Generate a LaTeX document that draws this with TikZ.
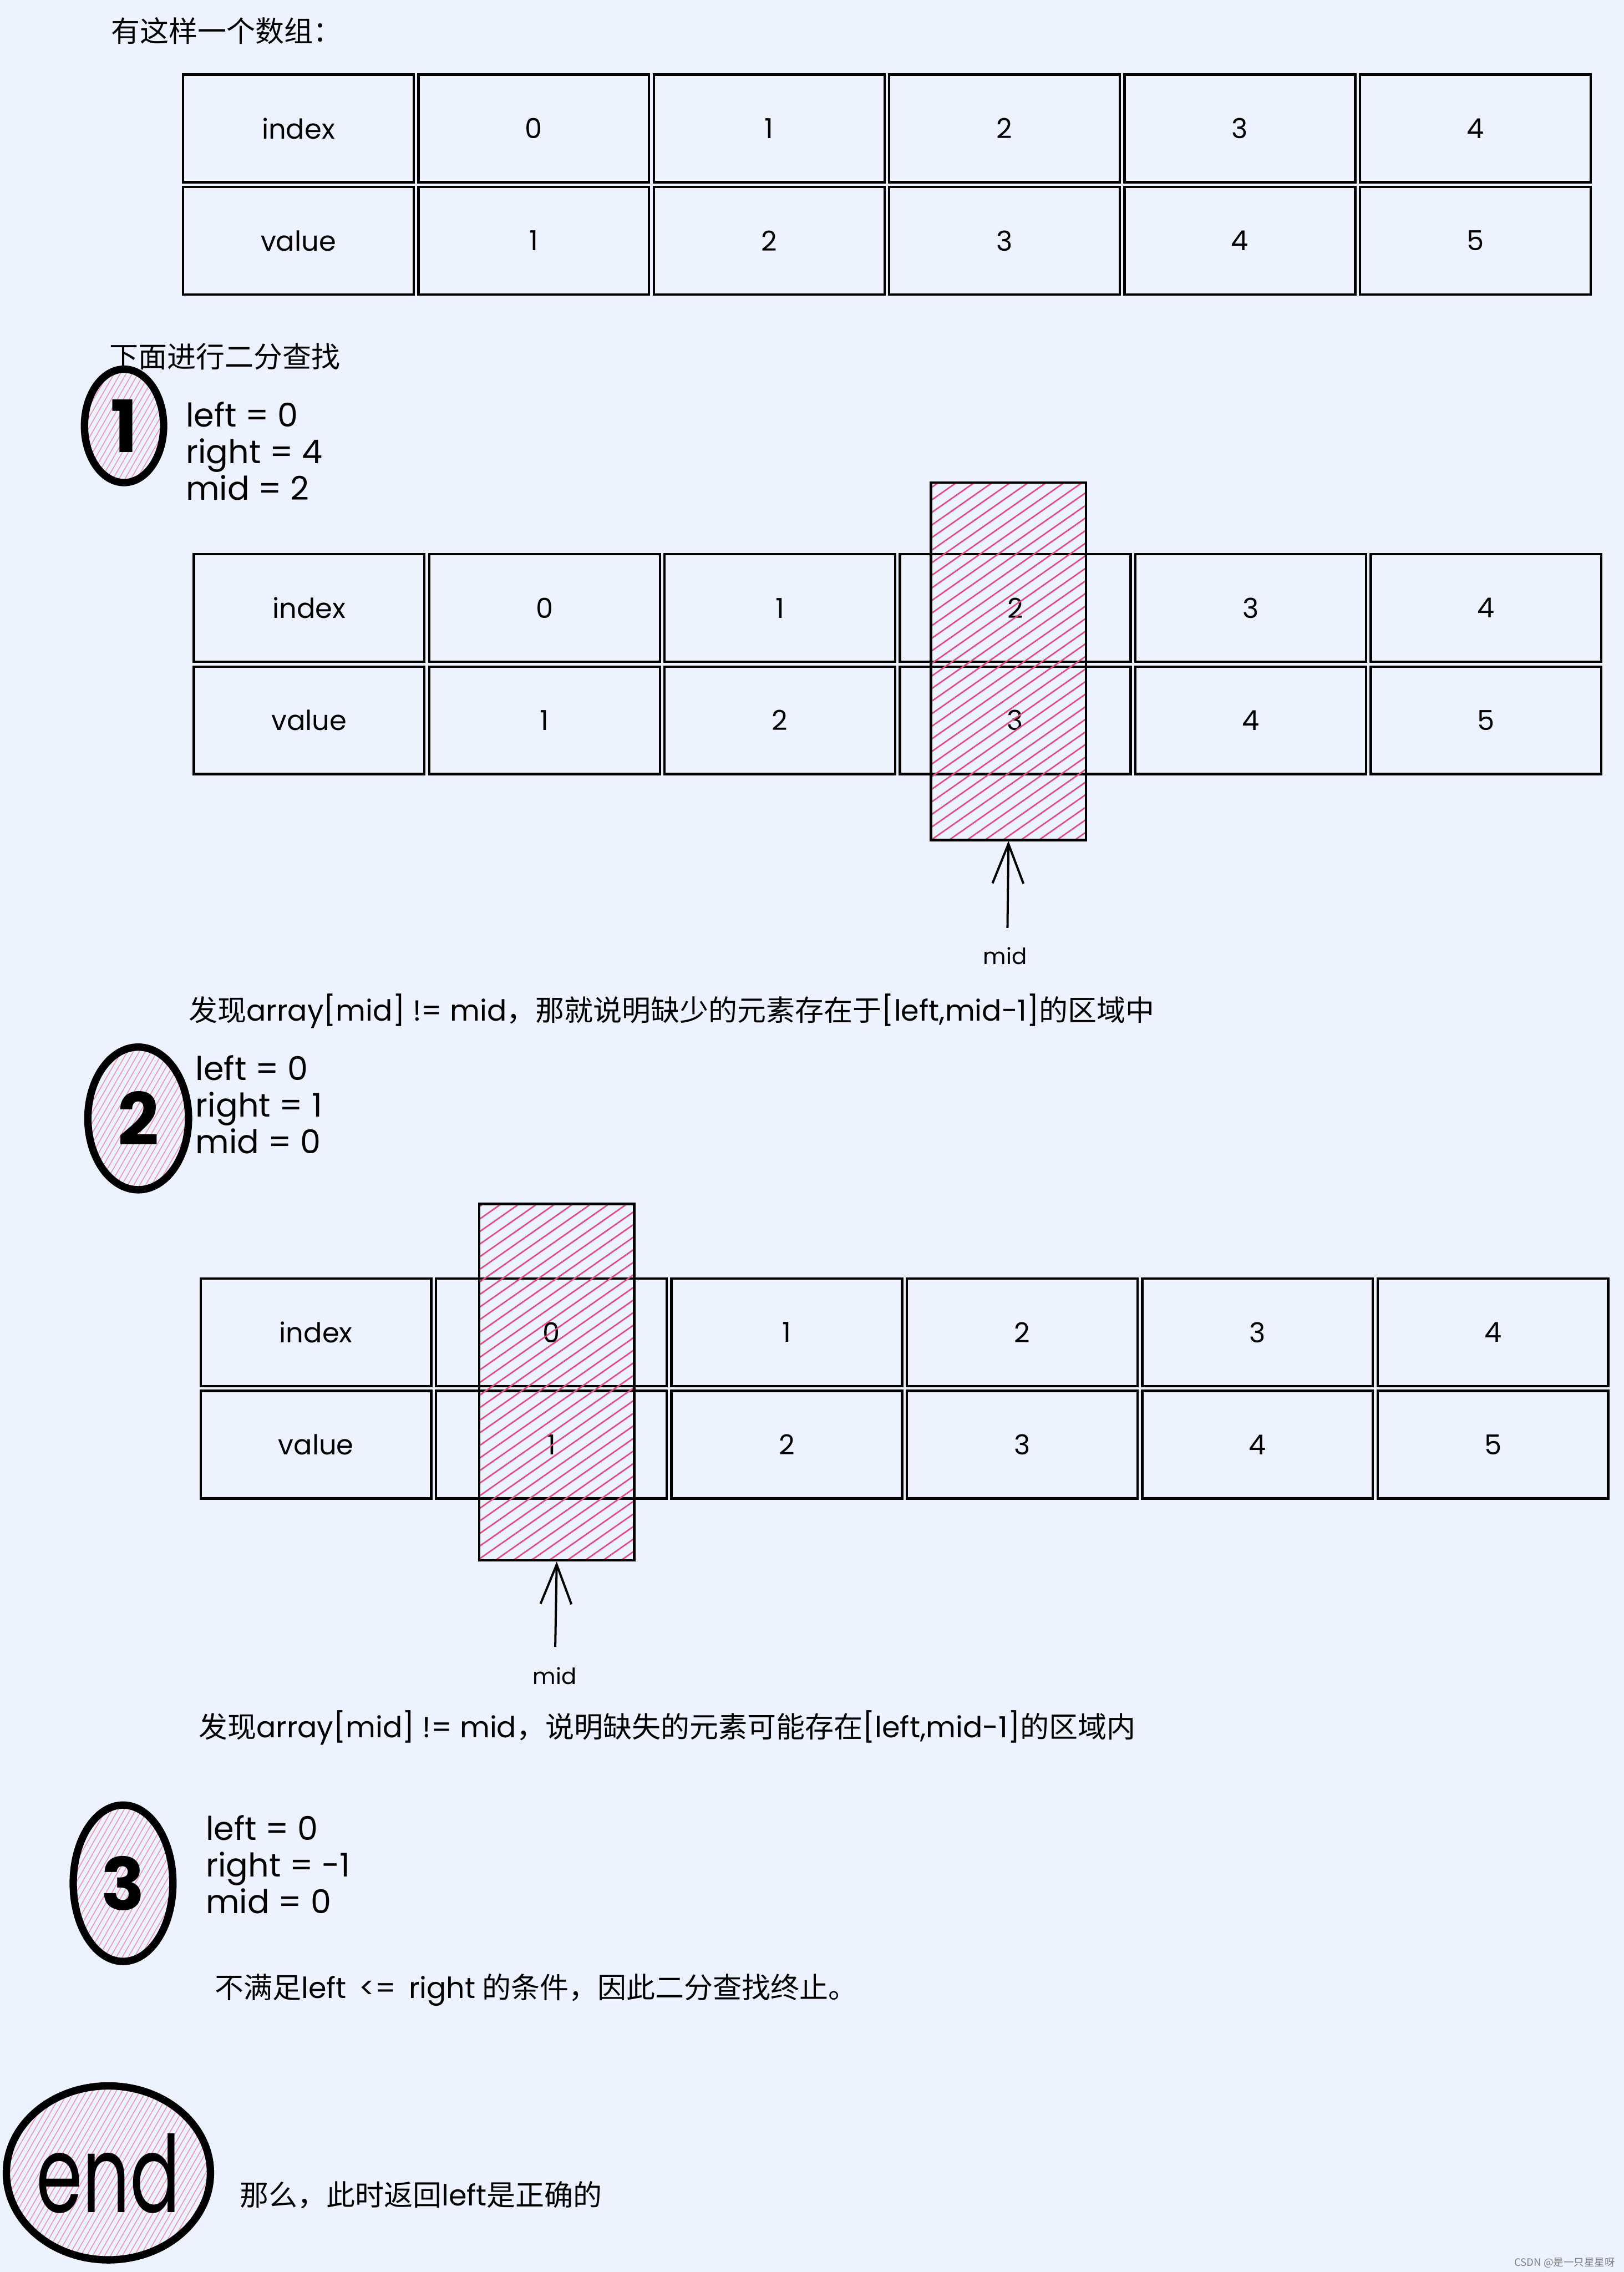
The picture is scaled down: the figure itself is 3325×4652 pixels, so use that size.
\documentclass[tikz,border=0pt]{standalone}
\usepackage{fontspec}
\newfontfamily\cjk{Noto Sans CJK SC}
\newfontfamily\hand{Poppins}
\usetikzlibrary{patterns.meta,arrows.meta,shapes.geometric}
\definecolor{bg}{HTML}{ECF2FE}
\definecolor{hatchpink}{HTML}{E64980}
\newcommand\arraytable[3]{%
  \foreach \i/\a/\b in {0/index/value,1/0/1,2/1/2,3/2/3,4/3/4,5/4/5}{
    \node[cell] (#1-i\i) at ({#2+241+482*\i},{#3+115}) {\a};
    \node[cell] (#1-v\i) at ({#2+241+482*\i},{#3+345}) {\b};
  }}
\newcommand\bignumfont{\hand\bfseries\fontsize{42}{42}\selectfont}
\newcommand\zh{\cjk\fontsize{16.8}{19}\selectfont}
\newcommand\en{\hand\fontsize{16.9}{19}\selectfont}
\begin{document}
\begin{tikzpicture}[x=0.01cm,y=-0.01cm,
  cell/.style={draw=black,line width=1.4pt,minimum width=4.72cm,minimum height=2.2cm,inner sep=0pt,
    font=\hand\fontsize{16}{18}\selectfont},
  hatchbox/.style={draw=black,line width=1.4pt,minimum width=3.17cm,inner sep=0pt,
    pattern={Lines[angle=35,distance=6pt,line width=0.85pt]},pattern color=hatchpink},
  badge/.style={ellipse,draw=black,line width=4.3pt,inner sep=0pt,
    pattern={Lines[angle=60,distance=3pt,line width=0.5pt]},pattern color=hatchpink!60},
  vars/.style={anchor=north west,align=left,inner sep=0pt,font=\hand\fontsize{19}{21.3}\selectfont},
  para/.style={anchor=west,inner sep=0pt},
  uparrow/.style={line width=1.3pt,-{Straight Barb[length=23pt,width=18pt,line width=1.3pt]}},
  midlabel/.style={inner sep=0pt,font=\hand\fontsize{13}{14}\selectfont}]
\fill[bg] (0,0) rectangle (3325,4652);
\useasboundingbox (0,0) rectangle (3325,4652);

% intro
\node[para] (t0) at (227,63) {\zh 有这样一个数组：};
\arraytable{A}{370}{148}

\node[para] (t1) at (224,730) {\zh 下面进行二分查找};

% step 1
\node[badge,minimum width=1.62cm,minimum height=2.32cm] (c1) at (254,872) {\bignumfont 1};
\node[vars] (v1) at (380,822) {left = 0\\right = 4\\mid = 2};
\arraytable{B}{392}{1130}
\node[hatchbox,minimum height=7.32cm] (h1) at (2065,1354) {};
\coordinate (a1) at (2063,1900);
\draw[uparrow] (a1) -- (h1.south);
\node[midlabel] (m1) at (2058,1957) {mid};
\node[para] (p1) at (386,2070) {\zh 发现{\en array[mid] != mid}，那就说明缺少的元素存在于{\en [left,mid-1]}的区域中};

% step 2
\node[badge,minimum width=2.06cm,minimum height=2.92cm] (c2) at (283,2290) {\bignumfont 2};
\node[vars] (v2) at (400,2160) {left = 0\\right = 1\\mid = 0};
\arraytable{C}{406}{2613}
\node[hatchbox,minimum height=7.29cm] (h2) at (1140,2830) {};
\coordinate (a2) at (1137,3372);
\draw[uparrow] (a2) -- (h2.south);
\node[midlabel] (m2) at (1136,3432) {mid};
\node[para] (p2) at (406,3538) {\zh 发现{\en array[mid] != mid}，说明缺失的元素可能存在{\en [left,mid-1]}的区域内};

% step 3
\node[badge,minimum width=2.04cm,minimum height=3.2cm] (c3) at (252,3856) {\bignumfont 3};
\node[vars] (v3) at (421,3716) {left = 0\\right = -1\\mid = 0};
\node[para] (p3) at (439,4075) {\zh 不满足{\en left \,<=\, right} 的条件，因此二分查找终止。};

% end
\node[badge,minimum width=3.98cm,minimum height=3.56cm,text depth=0pt] (c4) at (222,4449) {\hand\fontsize{62}{62}\selectfont\scalebox{0.7}[1]{end}};
\node[para] (p4) at (490,4495) {\zh 那么，此时返回{\en left}是正确的};

\node[anchor=east,inner sep=0pt,text=gray] (wm) at (3308,4633) {\cjk\fontsize{6}{7}\selectfont CSDN @是一只星星呀};
\end{tikzpicture}
\end{document}
